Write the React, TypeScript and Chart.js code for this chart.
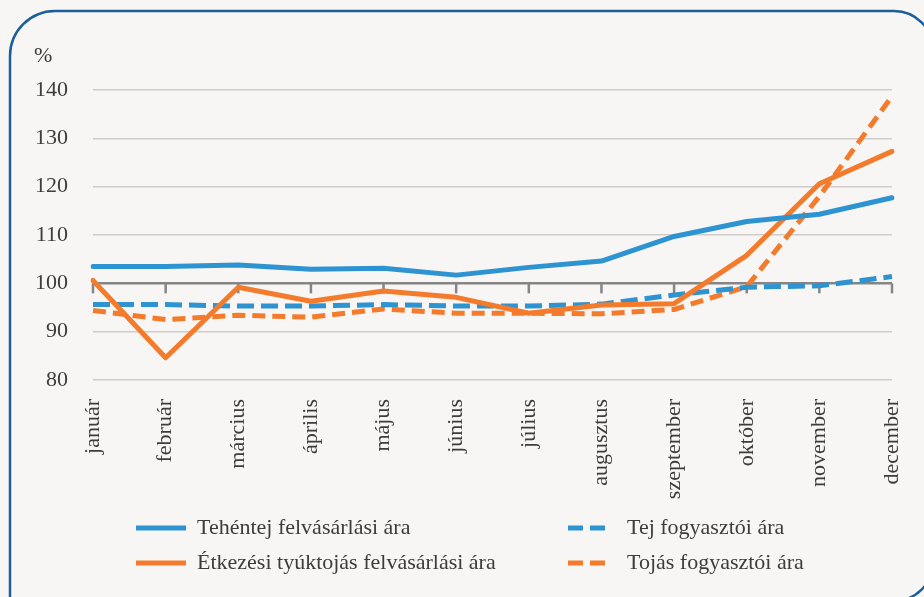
import React, { useEffect, useRef } from "react";
import { Chart, registerables } from "chart.js";

Chart.register(...registerables);

const months = ["január", "február", "március", "április", "május", "június", "július", "augusztus", "szeptember", "október", "november", "december"];
const yTicks = [80, 90, 100, 110, 120, 130, 140];
const tehentejFelvasarlasi = [103.5, 103.5, 103.8, 102.9, 103.1, 101.7, 103.3, 104.6, 109.7, 112.8, 114.3, 117.7];
const tojasFelvasarlasi = [100.6, 84.6, 99.2, 96.3, 98.4, 97.1, 93.8, 95.5, 95.8, 105.8, 120.6, 127.3];
const tejFogyasztoi = [95.6, 95.6, 95.3, 95.3, 95.6, 95.3, 95.3, 95.7, 97.6, 99.2, 99.5, 101.4];
const tojasFogyasztoi = [94.4, 92.5, 93.4, 93.0, 94.7, 93.8, 93.8, 93.7, 94.6, 99.3, 118.0, 138.7];

const BLUE = "#2d93d1";
const ORANGE = "#f47b2b";
const TEXT = "#3c3c3c";
const FONT = "'Liberation Serif', 'Times New Roman', serif";

const framePlugin = {
  id: "frame",
  beforeDraw(chart: any) {
    const { ctx, width, height } = chart;
    ctx.save();
    ctx.fillStyle = "#f7f6f4";
    ctx.fillRect(0, 0, width, height);
    ctx.strokeStyle = "#1b5e9c";
    ctx.lineWidth = 2.5;
    const R = 933;
    const B = 601;
    ctx.beginPath();
    ctx.moveTo(10, 620);
    ctx.lineTo(10, 56);
    ctx.arcTo(10, 11, 55, 11, 45);
    ctx.lineTo(R - 39, 11);
    ctx.arcTo(R, 11, R, 50, 39);
    ctx.lineTo(R, B - 39);
    ctx.arcTo(R, B, R - 39, B, 39);
    ctx.lineTo(0, B);
    ctx.stroke();
    ctx.restore();
  },
};

const axisPlugin = {
  id: "axis100",
  beforeDatasetsDraw(chart: any) {
    const { ctx, chartArea, scales } = chart;
    const y = scales.y.getPixelForValue(100);
    ctx.save();
    ctx.strokeStyle = "#858585";
    ctx.lineWidth = 2.5;
    ctx.beginPath();
    ctx.moveTo(chartArea.left, y);
    ctx.lineTo(chartArea.right, y);
    ctx.stroke();
    for (let i = 0; i < months.length; i++) {
      const x = scales.x.getPixelForValue(i);
      ctx.beginPath();
      ctx.moveTo(x, y);
      ctx.lineTo(x, y + 10);
      ctx.stroke();
    }
    ctx.restore();
  },
};

const legendPlugin = {
  id: "customLegend",
  afterDraw(chart: any) {
    const { ctx } = chart;
    const ds = chart.data.datasets;
    const items = [
      { d: ds[0], lx: 136, rx: 186, tx: 197, y: 528 },
      { d: ds[2], lx: 568, rx: 608, tx: 627, y: 528 },
      { d: ds[1], lx: 136, rx: 186, tx: 197, y: 563 },
      { d: ds[3], lx: 568, rx: 608, tx: 627, y: 563 },
    ];
    ctx.save();
    ctx.font = `22px ${FONT}`;
    ctx.fillStyle = TEXT;
    ctx.textBaseline = "middle";
    ctx.textAlign = "left";
    ctx.fillText("%", 34, 56);
    for (const it of items) {
      ctx.strokeStyle = it.d.borderColor;
      ctx.lineWidth = 5;
      ctx.lineCap = "butt";
      ctx.setLineDash(it.d.borderDash && it.d.borderDash.length ? [15, 7] : []);
      ctx.beginPath();
      ctx.moveTo(it.lx, it.y);
      ctx.lineTo(it.rx, it.y);
      ctx.stroke();
      ctx.setLineDash([]);
      ctx.fillStyle = TEXT;
      ctx.fillText(it.d.label, it.tx, it.y);
    }
    ctx.restore();
  },
};

export default function App() {
  const ref = useRef<HTMLCanvasElement | null>(null);
  useEffect(() => {
    if (!ref.current) return;
    const chart = new Chart(ref.current, {
      type: "line",
      data: {
        labels: months,
        datasets: [
          { label: "Tehéntej felvásárlási ára", data: tehentejFelvasarlasi, borderColor: BLUE, backgroundColor: BLUE, borderWidth: 5, borderCapStyle: "round", borderJoinStyle: "round" },
          { label: "Étkezési tyúktojás felvásárlási ára", data: tojasFelvasarlasi, borderColor: ORANGE, backgroundColor: ORANGE, borderWidth: 5, borderCapStyle: "round", borderJoinStyle: "round" },
          { label: "Tej fogyasztói ára", data: tejFogyasztoi, borderColor: BLUE, backgroundColor: BLUE, borderWidth: 5, borderDash: [17, 7], borderCapStyle: "butt" },
          { label: "Tojás fogyasztói ára", data: tojasFogyasztoi, borderColor: ORANGE, backgroundColor: ORANGE, borderWidth: 5, borderDash: [13, 7], borderCapStyle: "butt" },
        ],
      } as any,
      options: {
        responsive: false,
        animation: false,
        devicePixelRatio: 1,
        layout: { padding: { left: 0, right: 32, top: 90, bottom: 92 } },
        elements: { point: { radius: 0, hoverRadius: 0 }, line: { tension: 0 } },
        plugins: { legend: { display: false }, tooltip: { enabled: false }, title: { display: false } },
        scales: {
          x: {
            offset: false,
            grid: { display: false },
            border: { display: false },
            afterFit: (s: any) => { s.height = 125; s.paddingRight = 0; s.paddingLeft = 0; },
            ticks: {
              autoSkip: false,
              minRotation: 90,
              maxRotation: 90,
              padding: 11,
              color: TEXT,
              font: { family: FONT, size: 22 },
            },
          },
          y: {
            min: 80,
            max: 140,
            afterFit: (s: any) => { s.width = 93; s.paddingTop = 0; s.paddingBottom = 0; },
            afterBuildTicks: (s: any) => { s.ticks = yTicks.map((v) => ({ value: v })); },
            border: { display: false },
            grid: {
              drawTicks: false,
              color: (c: any) => (c.tick && c.tick.value === 100 ? "rgba(0,0,0,0)" : "#cfcdca"),
              lineWidth: 1.5,
            },
            ticks: { padding: 25, color: TEXT, font: { family: FONT, size: 22 } },
          },
        },
      } as any,
      plugins: [framePlugin, axisPlugin, legendPlugin],
    });
    return () => chart.destroy();
  }, []);

  return (
    <div style={{ position: "fixed", left: 0, top: 0, width: 924, height: 597, overflow: "hidden", background: "#f7f6f4" }}>
      <canvas ref={ref} width={924} height={597} style={{ position: "absolute", left: 0, top: 0, width: 924, height: 597 }} />
    </div>
  );
}
